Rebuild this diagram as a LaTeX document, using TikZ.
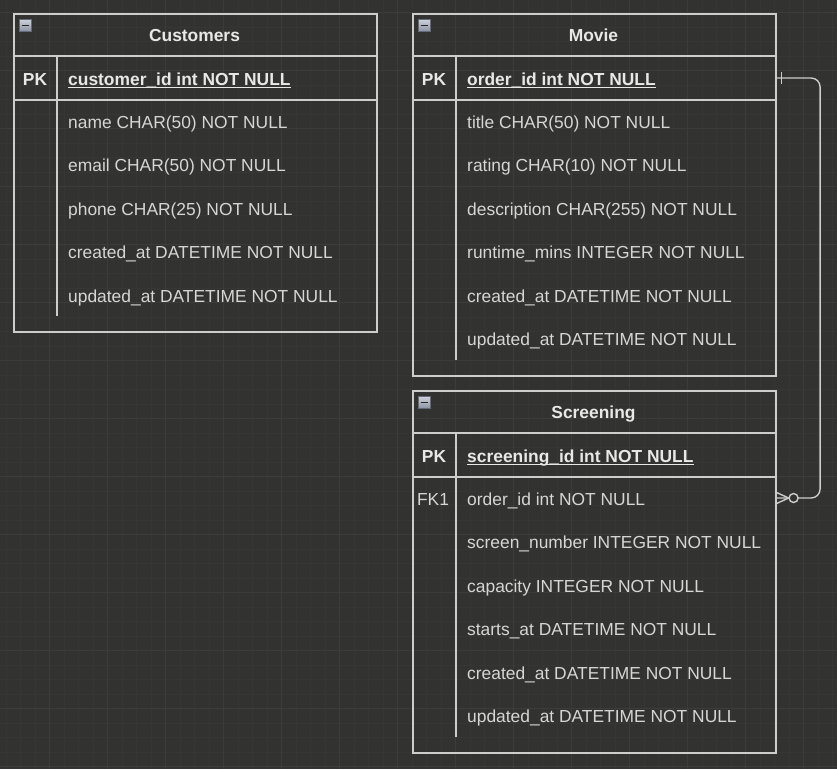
\documentclass[tikz,border=0pt]{standalone}
\usepackage{fontspec}
\setmainfont{Liberation Sans}
\usetikzlibrary{calc}
\definecolor{bg}{RGB}{50,50,48}
\definecolor{gminor}{RGB}{54,54,52}
\definecolor{gmajor}{RGB}{60,60,57}
\definecolor{edge}{RGB}{205,205,205}
\definecolor{htext}{RGB}{232,232,232}
\definecolor{ftext}{RGB}{214,214,214}
\definecolor{iconA}{RGB}{205,209,219}
\definecolor{iconB}{RGB}{140,146,162}
\definecolor{iconE}{RGB}{100,106,122}
\newcommand\erdicon[2]{%
  \shade[top color=iconA,bottom color=iconB,draw=iconE,line width=0.8pt] (#1,#2) rectangle ++(12,12);
  \draw[black!85,line width=1.8pt] (#1+2.5,#2+6) -- ++(7,0);}
\begin{document}
\begin{tikzpicture}[x=1pt,y=-1pt,
  tbl/.style={draw=edge,line width=1.6pt,inner sep=0pt,anchor=north west},
  sep/.style={draw=edge,line width=1.6pt},
  field/.style={anchor=base west,inner sep=0pt,text=ftext,font=\fontsize{17.4}{20}\selectfont},
  keyfield/.style={anchor=base west,inner sep=0pt,text=htext,font=\fontsize{17.4}{20}\selectfont\bfseries},
  keylabel/.style={anchor=base,inner sep=0pt,text=htext,font=\fontsize{17.4}{20}\selectfont\bfseries},
  fklabel/.style={anchor=base,inner sep=0pt,text=ftext,font=\fontsize{17.4}{20}\selectfont},
  hdr/.style={anchor=base,inner sep=0pt,text=htext,font=\fontsize{17.4}{20}\selectfont\bfseries},
  uline/.style={draw=htext,line width=1.3pt},
  rel/.style={draw=edge,line width=1.4pt},
]
\useasboundingbox (0,0) rectangle (837,769);
% background and grid
\fill[bg] (0,0) rectangle (837,769);
\foreach \i in {0,...,59} {\pgfmathsetmacro\gx{-8.5+14.5*\i}
  \draw[gminor,line width=0.8pt] (\gx,0) -- (\gx,769);}
\foreach \i in {0,...,54} {\pgfmathsetmacro\gy{-1.8+14.5*\i}
  \draw[gminor,line width=0.8pt] (0,\gy) -- (837,\gy);}
\foreach \k in {1,...,15} {\pgfmathsetmacro\gx{-8.5+58*\k}
  \draw[gmajor,line width=0.9pt] (\gx,0) -- (\gx,769);}
\foreach \k in {0,...,13} {\pgfmathsetmacro\gy{12.7+58*\k}
  \draw[gmajor,line width=0.9pt] (0,\gy) -- (837,\gy);}

% ---------- Customers ----------
\node[tbl,minimum width=363pt,minimum height=318pt] (customers) at (13,13) {};
\draw[sep] (13,56) -- (376,56);
\draw[sep] (13,100) -- (376,100);
\draw[sep] (57,56) -- (57,316);
\erdicon{19}{19.5}
\node[hdr] (ch) at (194.5,41.2) {Customers};
\node[keylabel] (cpkl) at (35,85.2) {PK};
\node[keyfield] (cpk) at (68,85.2) {customer\_id int NOT NULL};
\draw[uline] ($(cpk.base west)+(0,2.6)$) -- ($(cpk.base east)+(0,2.6)$);
\foreach \t [count=\i] in {name CHAR(50) NOT NULL, email CHAR(50) NOT NULL, phone CHAR(25) NOT NULL, created\_at DATETIME NOT NULL, updated\_at DATETIME NOT NULL}
  \node[field] (cf\i) at (68,{128.2+43.5*(\i-1)}) {\t};

% ---------- Movie ----------
\node[tbl,minimum width=363pt,minimum height=362pt] (movie) at (412,13) {};
\draw[sep] (412,56) -- (775,56);
\draw[sep] (412,100) -- (775,100);
\draw[sep] (456,56) -- (456,360);
\erdicon{418}{19.5}
\node[hdr] (mh) at (593.5,41.2) {Movie};
\node[keylabel] (mpkl) at (434,85.2) {PK};
\node[keyfield] (mpkf) at (467,85.2) {order\_id int NOT NULL};
\draw[uline] ($(mpkf.base west)+(0,2.6)$) -- ($(mpkf.base east)+(0,2.6)$);
\foreach \t [count=\i] in {title CHAR(50) NOT NULL, rating CHAR(10) NOT NULL, description CHAR(255) NOT NULL, runtime\_mins INTEGER NOT NULL, created\_at DATETIME NOT NULL, updated\_at DATETIME NOT NULL}
  \node[field] (mf\i) at (467,{128.2+43.5*(\i-1)}) {\t};

% ---------- Screening ----------
\node[tbl,minimum width=363pt,minimum height=362pt] (screening) at (412,390) {};
\draw[sep] (412,433) -- (775,433);
\draw[sep] (412,477) -- (775,477);
\draw[sep] (456,433) -- (456,737);
\erdicon{418}{396.5}
\node[hdr] (sh) at (593.5,418.2) {Screening};
\node[keylabel] (spkl) at (434,462.2) {PK};
\node[keyfield] (spkf) at (467,462.2) {screening\_id int NOT NULL};
\draw[uline] ($(spkf.base west)+(0,2.6)$) -- ($(spkf.base east)+(0,2.6)$);
\node[fklabel] (sfkl) at (433,505.2) {FK1};
\node[field] (sfkf) at (467,505.2) {order\_id int NOT NULL};
\foreach \t [count=\i] in {screen\_number INTEGER NOT NULL, capacity INTEGER NOT NULL, starts\_at DATETIME NOT NULL, created\_at DATETIME NOT NULL, updated\_at DATETIME NOT NULL}
  \node[field] (sf\i) at (467,{548.7+43.5*(\i-1)}) {\t};

% ---------- relation ----------
\coordinate (mpk) at (movie.east |- 0,78);
\coordinate (sfk) at (screening.east |- 0,498);
\draw[rel,rounded corners=9pt] (mpk) -- ++(43.5,0) |- (sfk);
\draw[rel] ($(mpk)+(5,-6)$) -- ($(mpk)+(5,6)$);
\draw[rel] ($(sfk)+(0,-5.5)$) -- ($(sfk)+(12,0)$) -- ($(sfk)+(0,5.5)$);
\draw[rel,fill=bg] ($(sfk)+(17,0)$) circle (4.5pt);
\end{tikzpicture}
\end{document}
